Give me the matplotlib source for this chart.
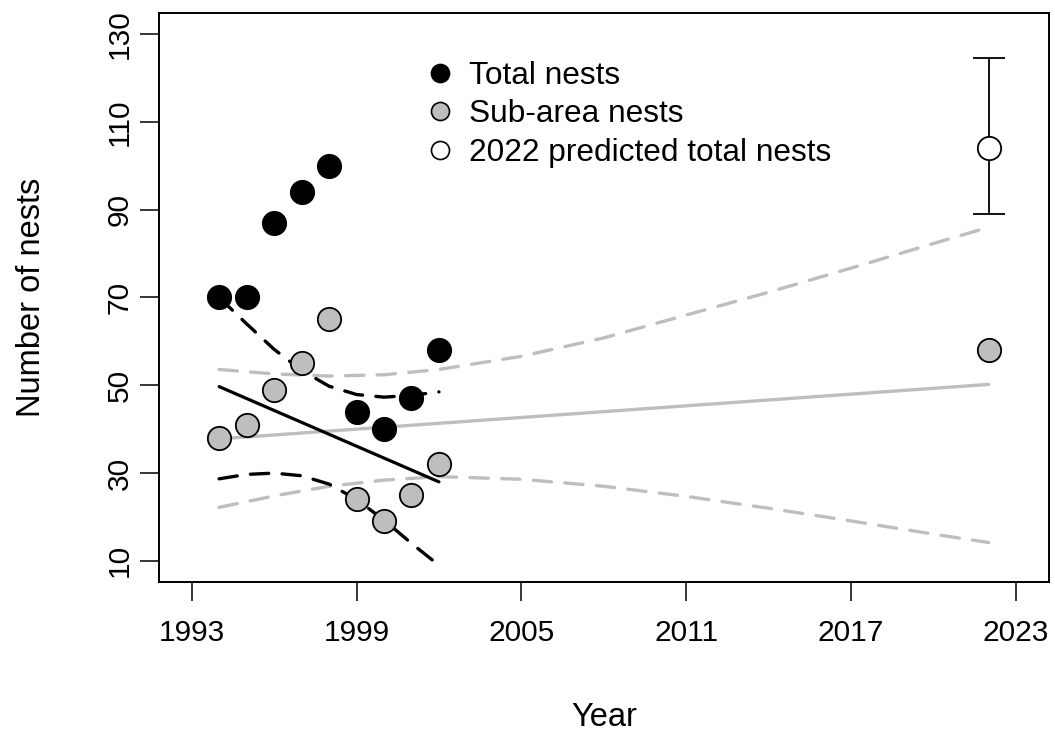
import matplotlib
matplotlib.use("Agg")
import matplotlib.pyplot as plt
from matplotlib.lines import Line2D

plt.rcParams['font.family'] = ['Liberation Sans', 'DejaVu Sans']
plt.rcParams['font.size'] = 21.5

# observed counts
years = [1994, 1995, 1996, 1997, 1998, 1999, 2000, 2001, 2002]
total_nests = [70, 70, 87, 94, 100, 44, 40, 47, 58]
sub_years = [1994, 1995, 1996, 1997, 1998, 1999, 2000, 2001, 2002, 2022]
sub_nests = [38, 41, 49, 55, 65, 24, 19, 25, 32, 58]

# 2022 prediction with interval
pred_year = 2022
pred_total = 104
pred_low = 89
pred_high = 124.5

# black fit (1994-2002) and its band
fit_black_years = [1994, 2002]
fit_black = [49.7, 28.0]
band_black_years = [1994, 1995, 1996, 1997, 1998, 1999, 2000, 2001, 2002]
band_black_upper = [70.0, 64.0, 58.2, 53.4, 49.8, 47.9, 47.3, 47.7, 48.5]
band_black_lower = [28.7, 29.7, 30.0, 29.4, 27.5, 24.0, 19.3, 14.0, 9.0]

# gray fit (1994-2022) and its band
fit_gray_years = [1994, 2022]
fit_gray = [37.8, 50.2]
band_gray_years = [1994, 1996, 1998, 2000, 2002, 2005, 2008, 2011, 2014, 2017, 2020, 2022]
band_gray_upper = [53.6, 52.6, 52.1, 52.4, 53.6, 56.6, 60.8, 66.0, 71.2, 76.7, 82.3, 86.0]
band_gray_lower = [22.2, 24.8, 27.0, 28.4, 29.2, 28.6, 27.0, 24.7, 22.0, 19.1, 16.1, 14.2]

x_ticks = [1993, 1999, 2005, 2011, 2017, 2023]
y_ticks = [10, 30, 50, 70, 90, 110, 130]

grey = '#BEBEBE'
dash = (5.5, 4.0)

fig = plt.figure(figsize=(10.55, 7.34), dpi=100)
ax = fig.add_axes([0.1504, 0.2071, 0.8439, 0.7752])

# bands and fits
ax.plot(band_gray_years, band_gray_upper, color=grey, lw=2.4, dashes=dash, dash_capstyle='round', zorder=2)
ax.plot(band_gray_years, band_gray_lower, color=grey, lw=2.4, dashes=dash, dash_capstyle='round', zorder=2)
ax.plot(fit_gray_years, fit_gray, color=grey, lw=2.4, solid_capstyle='round', zorder=2)
ax.plot(band_black_years, band_black_upper, color='black', lw=2.4, dashes=dash, dash_capstyle='round', zorder=3)
ax.plot(band_black_years, band_black_lower, color='black', lw=2.4, dashes=dash, dash_capstyle='round', zorder=3)
ax.plot(fit_black_years, fit_black, color='black', lw=2.3, solid_capstyle='round', zorder=3)

# points
ax.plot(years, total_nests, 'o', ms=16.8, mfc='black', mec='black', mew=1.3, zorder=5)
ax.plot(sub_years, sub_nests, 'o', ms=16.8, mfc=grey, mec='black', mew=1.3, zorder=5)
ax.errorbar([pred_year], [pred_total],
            yerr=[[pred_total - pred_low], [pred_high - pred_total]],
            fmt='none', ecolor='black', elinewidth=1.3, capsize=11.5, capthick=1.3, zorder=4)
ax.plot([pred_year], [pred_total], 'o', ms=16.8, mfc='white', mec='black', mew=1.3, zorder=6)

ax.set_xlim(1991.8, 2024.2)
ax.set_ylim(5.2, 134.8)
ax.set_xticks(x_ticks)
ax.set_yticks(y_ticks)
ax.tick_params(axis='both', direction='out', length=14, width=1.1, color='black')
ax.tick_params(axis='x', pad=13)
ax.tick_params(axis='y', pad=4, labelrotation=90)
for lab in ax.get_yticklabels():
    lab.set_va('center')
for s in ax.spines.values():
    s.set_linewidth(1.4)

ax.set_xlabel('Year', fontsize=23.5, labelpad=39)
ax.set_ylabel('Number of nests', fontsize=23.5, labelpad=42)

handles = [
    Line2D([], [], ls='none', marker='o', ms=13, mfc='black', mec='black', mew=1.2),
    Line2D([], [], ls='none', marker='o', ms=13, mfc=grey, mec='black', mew=1.2),
    Line2D([], [], ls='none', marker='o', ms=13, mfc='white', mec='black', mew=1.2),
]
labels = ['Total nests', 'Sub-area nests', '2022 predicted total nests']
ax.legend(handles, labels, loc='upper left', bbox_to_anchor=(0.299, 0.916),
          frameon=False, fontsize=22.8, handlelength=0.95, handletextpad=0.45,
          labelspacing=0.27, borderpad=0, borderaxespad=0)

fig.savefig('out.png', dpi=100)
